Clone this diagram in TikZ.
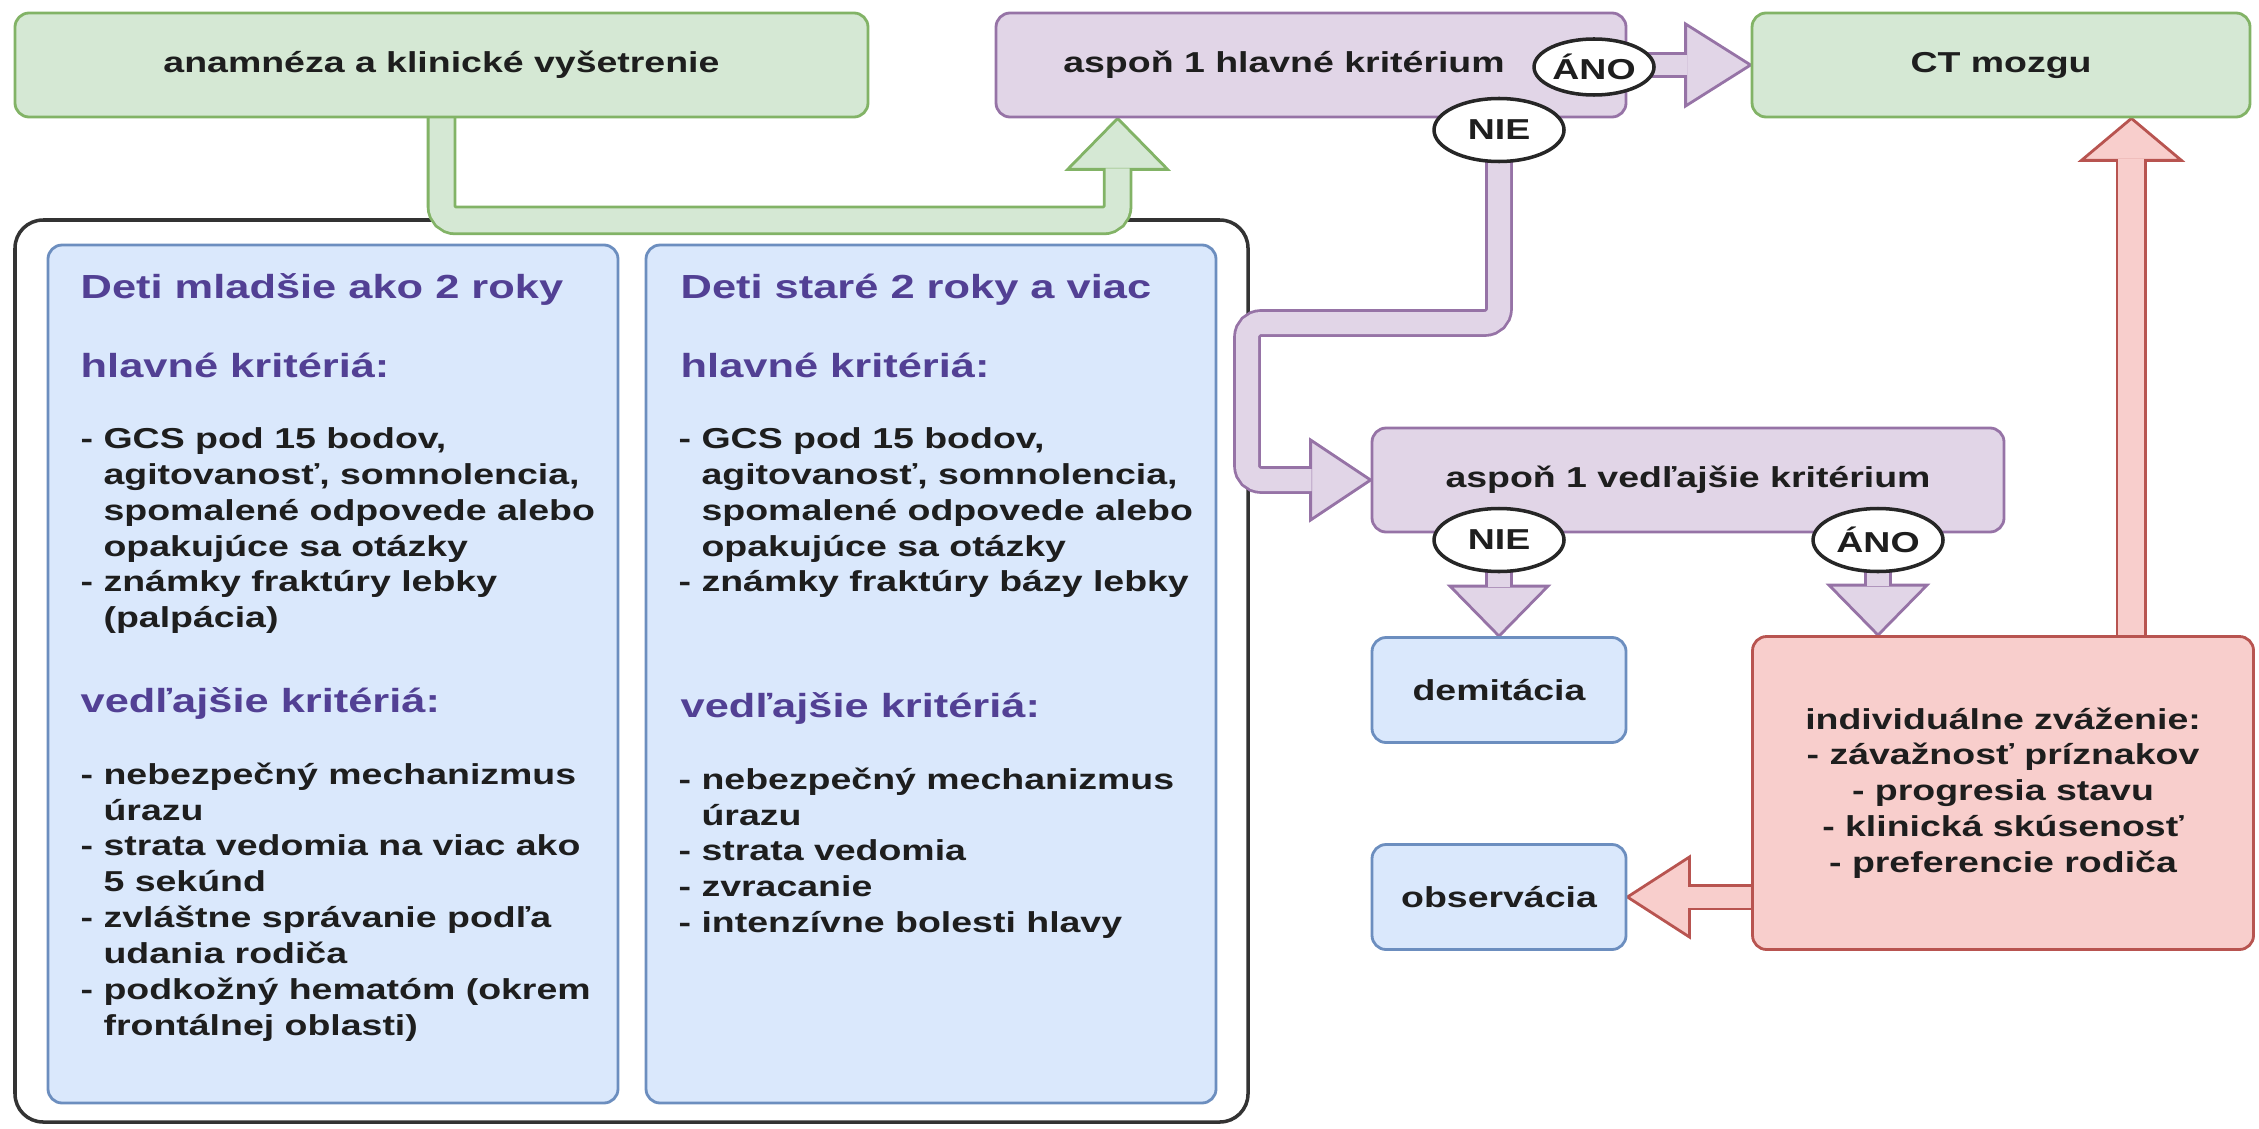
\documentclass[tikz,border=0pt]{standalone}
\usepackage{fontspec}
\setmainfont{Liberation Sans}[FakeStretch=1.3]
\usetikzlibrary{calc,positioning,shapes.geometric}

\definecolor{grfill}{HTML}{D5E8D4}
\definecolor{grline}{HTML}{82B366}
\definecolor{pufill}{HTML}{E1D5E7}
\definecolor{puline}{HTML}{9673A6}
\definecolor{blfill}{HTML}{DAE8FC}
\definecolor{blline}{HTML}{6C8EBF}
\definecolor{rdfill}{HTML}{F8CECC}
\definecolor{rdline}{HTML}{B85450}
\definecolor{txt}{HTML}{1E1E1E}
\definecolor{crit}{RGB}{82,64,148}

\pgfdeclarelayer{bg}
\pgfdeclarelayer{arr}
\pgfsetlayers{bg,arr,main}

\newcommand{\lbl}{\fontsize{8.2}{10.2}\selectfont\bfseries}
\newcommand{\hdr}{\fontsize{9.5}{11}\selectfont\bfseries}
\newcommand{\indnt}{\hphantom{- }}

\tikzset{
  box/.style={rounded corners=4pt, line width=0.8pt, inner sep=0pt, align=center, text=txt, font=\lbl},
  gbox/.style={box, draw=grline, fill=grfill},
  pbox/.style={box, draw=puline, fill=pufill},
  bbox/.style={box, draw=blline, fill=blfill},
  rbox/.style={box, draw=rdline, fill=rdfill},
  answer/.style={ellipse, draw=black!85, fill=white, line width=1pt, minimum width=13mm, minimum height=6.3mm, inner sep=0pt, text=txt, font=\lbl},
  crittitle/.style={anchor=base west, inner sep=0pt, text=crit, font=\hdr},
  critlist/.style={anchor=north west, inner sep=0pt, align=left, text=txt, font=\lbl},
  gshaft/.style={draw=grline, double=grfill, double distance=2.4mm, line width=0.8pt, rounded corners=1.4mm},
  pshaft/.style={draw=puline, double=pufill, double distance=2.2mm, line width=0.8pt, rounded corners=1.4mm},
  rshaft/.style={draw=rdline, double=rdfill, double distance=2.1mm, line width=0.8pt},
  ghead/.style={draw=grline, fill=grfill, line width=0.8pt},
  phead/.style={draw=puline, fill=pufill, line width=0.8pt},
  rhead/.style={draw=rdline, fill=rdfill, line width=0.8pt}
}

\begin{document}
\begin{tikzpicture}[x=0.1mm, y=-0.1mm, node distance=20.7mm, on grid]
\useasboundingbox (0,0) rectangle (2259,1128);

\begin{pgfonlayer}{bg}
  \node[draw=black!80, line width=1pt, rounded corners=8pt, minimum width=123.3mm, minimum height=90.2mm] (frame) at (631.5,671) {};
\end{pgfonlayer}

\node[gbox, minimum width=85.3mm, minimum height=10.4mm]   (anam)  at (441.5,65) {anamnéza a klinické vyšetrenie};
\node[pbox, minimum width=63mm,   minimum height=10.4mm]   (hlav)  at (1311,65)  {aspoň 1 hlavné kritérium\hspace*{5.4mm}};
\node[gbox, minimum width=49.8mm, minimum height=10.4mm]   (ct)    at (2001,65)  {CT mozgu};
\node[bbox, minimum width=57mm,   minimum height=85.8mm]   (young) at (333,674)  {};
\node[bbox, minimum width=57mm,   minimum height=85.8mm]   (old)   at (931,674)  {};
\node[pbox, minimum width=63.2mm, minimum height=10.4mm]   (ved)   at (1688,480) {aspoň 1 vedľajšie kritérium};
\node[bbox, minimum width=25.4mm, minimum height=10.5mm]   (dem)   at (1499,690) {demitácia};
\node[bbox, minimum width=25.4mm, minimum height=10.5mm]   (obs)   [below=of dem] {observácia};
\node[rbox, minimum width=50.1mm, minimum height=31.3mm]   (indiv) at (2003,793) {individuálne zváženie:\\- závažnosť príznakov\\- progresia stavu\\- klinická skúsenosť\\- preferencie rodiča};

\node[answer, minimum width=12mm, minimum height=5.6mm] (ano1) at (1594,67)  {ÁNO};
\node[answer]                                          (nie1) at (1499,130) {NIE};
\node[answer]                                          (nie2) at (1499,540) {NIE};
\node[answer]                                          (ano2) at (1878,540) {ÁNO};

\node[crittitle] (ytitle) at (80,298)  {Deti mladšie ako 2 roky};
\node[crittitle] (ymain)  at (80,377)  {hlavné kritériá:};
\node[critlist]  (ymainl) at (80,427)  {- GCS pod 15 bodov,\\\indnt agitovanosť, somnolencia,\\\indnt spomalené odpovede alebo\\\indnt opakujúce sa otázky\\- známky fraktúry lebky\\\indnt (palpácia)};
\node[crittitle] (yside)  at (80,712)  {vedľajšie kritériá:};
\node[critlist]  (ysidel) at (80,762)  {- nebezpečný mechanizmus\\\indnt úrazu\\- strata vedomia na viac ako\\\indnt 5 sekúnd\\- zvláštne správanie podľa\\\indnt udania rodiča\\- podkožný hematóm (okrem\\\indnt frontálnej oblasti)};

\node[crittitle] (otitle) at (680,298)  {Deti staré 2 roky a viac};
\node[crittitle] (omain)  at (680,377)  {hlavné kritériá:};
\node[critlist]  (omainl) at (678,427)  {- GCS pod 15 bodov,\\\indnt agitovanosť, somnolencia,\\\indnt spomalené odpovede alebo\\\indnt opakujúce sa otázky\\- známky fraktúry bázy lebky};
\node[crittitle] (oside)  at (680,717)  {vedľajšie kritériá:};
\node[critlist]  (osidel) at (678,767)  {- nebezpečný mechanizmus\\\indnt úrazu\\- strata vedomia\\- zvracanie\\- intenzívne bolesti hlavy};

\begin{pgfonlayer}{arr}
  \coordinate (gtip) at ($(hlav.south west)+(123,0)$);
  \draw[ghead]  (gtip) -- ++(50,51) -- ++(-100,0) -- cycle;
  \draw[gshaft] (anam.center) |- ($(gtip)+(0,102)$) -- ($(gtip)+(0,50)$);

  \draw[phead]  (ct.west) -- ++(-65,-41) -- ++(0,82) -- cycle;
  \draw[pshaft, double distance=2mm] (ano1.center |- ct.west) -- ($(ct.west)+(-64,0)$);

  \coordinate (pbend) at (1247,323);
  \draw[phead]  (ved.west) -- ++(-60,-40) -- ++(0,80) -- cycle;
  \draw[pshaft] (nie1.center) |- (pbend) |- ($(ved.west)+(-59,0)$);

  \draw[phead]  (dem.north) -- ++(-49,-50) -- ++(98,0) -- cycle;
  \draw[pshaft] (nie2.center) -- ($(dem.north)+(0,-49)$);

  \coordinate (atip) at (ano2.center |- indiv.north);
  \draw[phead]  (atip) -- ++(-49,-50) -- ++(98,0) -- cycle;
  \draw[pshaft] (ano2.center) -- ($(atip)+(0,-49)$);

  \coordinate (rtip) at ($(ct.south east)+(-120,0)$);
  \draw[rhead]  (rtip) -- ++(-50,42) -- ++(100,0) -- cycle;
  \draw[rshaft, double distance=2.6mm] (rtip |- indiv.center) -- ($(rtip)+(0,41)$);

  \draw[rhead]  (obs.east) -- ++(62,-40) -- ++(0,80) -- cycle;
  \draw[rshaft] (indiv.center |- obs.east) -- ($(obs.east)+(61,0)$);
\end{pgfonlayer}

\end{tikzpicture}
\end{document}
